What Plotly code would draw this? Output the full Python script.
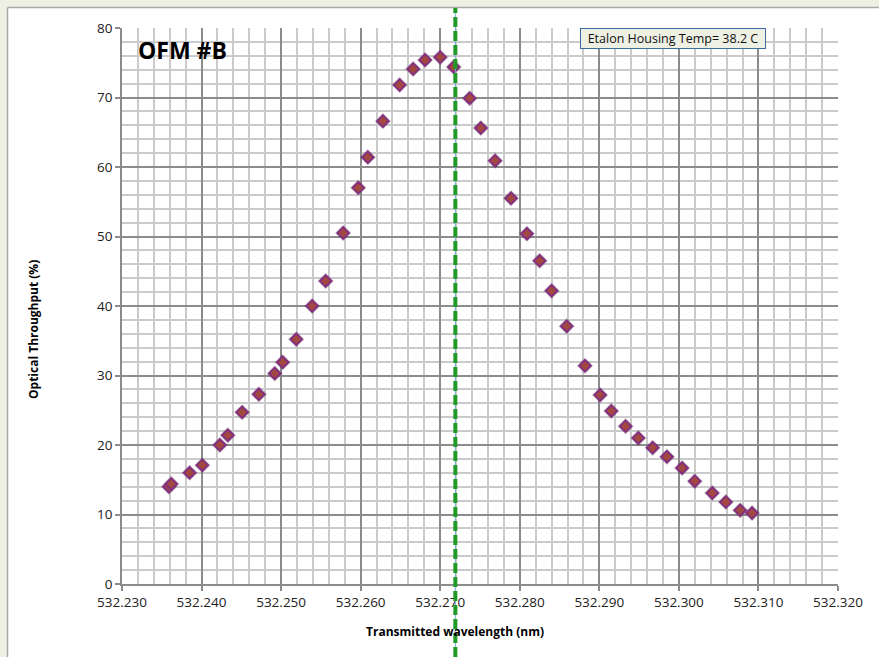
import plotly.graph_objects as go

# Measured etalon transmission scan
wavelength_nm = [
    532.2359, 532.2362, 532.2385, 532.2401, 532.2423, 532.2433, 532.2451,
    532.2472, 532.2492, 532.2502, 532.2519, 532.2539, 532.2556, 532.2578,
    532.2597, 532.2609, 532.2628, 532.2649, 532.2666, 532.2681, 532.2700,
    532.2717, 532.2737, 532.2751, 532.2769, 532.2789, 532.2809, 532.2825,
    532.2840, 532.2859, 532.2882, 532.2901, 532.2915, 532.2933, 532.2949,
    532.2967, 532.2985, 532.3004, 532.3020, 532.3042, 532.3059, 532.3077,
    532.3092,
]
throughput_pct = [
    14.0, 14.4, 16.0, 17.1, 20.0, 21.4, 24.7,
    27.3, 30.3, 31.9, 35.2, 40.0, 43.6, 50.5,
    57.0, 61.4, 66.6, 71.8, 74.1, 75.4, 75.8,
    74.4, 69.9, 65.6, 60.9, 55.5, 50.4, 46.5,
    42.2, 37.1, 31.4, 27.2, 24.9, 22.7, 21.0,
    19.6, 18.3, 16.7, 14.8, 13.1, 11.8, 10.6,
    10.2,
]

# Peak marker wavelength
peak_marker_nm = 532.2719

chart_title = "OFM #B"
temp_label = "Etalon Housing Temp= 38.2 C"
x_title = "Transmitted wavelength (nm)"
y_title = "Optical Throughput (%)"

W, H = 879, 657
ML, MR, MT, MB = 122, 41, 28, 73
PW, PH = W - ML - MR, H - MT - MB


def px_x(p):
    return (p - ML) / PW


def px_y(p):
    return (H - MB - p) / PH


FONT = "Open Sans"

fig = go.Figure()

# soft shadow under the markers
fig.add_trace(go.Scatter(
    x=wavelength_nm, y=throughput_pct, mode="markers",
    marker=dict(symbol="diamond", size=13, color="rgba(40,20,40,0.16)", line=dict(width=0)),
    hoverinfo="skip", showlegend=False,
))
fig.add_trace(go.Scatter(
    x=wavelength_nm, y=throughput_pct, mode="markers",
    marker=dict(symbol="diamond", size=9, color="#a2483f",
                line=dict(width=2, color="#84307f")),
    showlegend=False,
))

shapes = [
    # beige margin strips and frame edge
    dict(type="rect", xref="paper", yref="paper", layer="below",
         x0=px_x(0), x1=px_x(7), y0=px_y(H), y1=px_y(0),
         fillcolor="#eef0e4", line=dict(width=0)),
    dict(type="rect", xref="paper", yref="paper", layer="below",
         x0=px_x(0), x1=px_x(W), y0=px_y(7), y1=px_y(0),
         fillcolor="#eef0e4", line=dict(width=0)),
    dict(type="line", xref="paper", yref="paper", layer="below",
         x0=px_x(7.5), x1=px_x(7.5), y0=px_y(H), y1=px_y(7.5),
         line=dict(color="#a8a8a8", width=1.5)),
    dict(type="line", xref="paper", yref="paper", layer="below",
         x0=px_x(7.5), x1=px_x(W), y0=px_y(7.5), y1=px_y(7.5),
         line=dict(color="#a8a8a8", width=1.5)),
    # vertical peak marker
    dict(type="line", xref="x", yref="paper", layer="above",
         x0=peak_marker_nm, x1=peak_marker_nm, y0=px_y(H), y1=px_y(8),
         line=dict(color="#7aa6e0", width=1)),
    dict(type="line", xref="x", yref="paper", layer="above",
         x0=peak_marker_nm, x1=peak_marker_nm, y0=px_y(H), y1=px_y(8),
         line=dict(color="#1f9a24", width=4, dash="10px,4px")),
]

annotations = [
    dict(text=f"<b>{chart_title}</b>", xref="paper", yref="paper",
         x=px_x(136), y=px_y(50), xanchor="left", yanchor="middle",
         showarrow=False, font=dict(family=FONT, size=23, color="#000000")),
    dict(text=temp_label, xref="paper", yref="paper",
         x=px_x(672.5), y=px_y(39), xanchor="center", yanchor="middle",
         showarrow=False, font=dict(family=FONT, size=12.5, color="#111111"),
         bgcolor="#eef0e4", bordercolor="#3f6c9e", borderwidth=1,
         width=182, height=17, borderpad=1),
    dict(text=f"<b>{x_title}</b>", xref="paper", yref="paper",
         x=px_x(455), y=px_y(631), xanchor="center", yanchor="middle",
         showarrow=False, font=dict(family=FONT, size=12, color="#000000")),
    dict(text=f"<b>{y_title}</b>", xref="paper", yref="paper",
         x=px_x(33), y=px_y(330), xanchor="center", yanchor="middle",
         textangle=-90, showarrow=False,
         font=dict(family=FONT, size=12, color="#000000")),
]

fig.update_layout(
    width=W, height=H,
    margin=dict(l=ML, r=MR, t=MT, b=MB, pad=0),
    paper_bgcolor="#ffffff", plot_bgcolor="#ffffff",
    shapes=shapes, annotations=annotations,
    font=dict(family=FONT, size=13.5, color="#222222"),
)

fig.update_xaxes(
    range=[532.230, 532.320], tick0=532.230, dtick=0.01, tickformat=".3f",
    showgrid=True, gridcolor="#8c8c8c", gridwidth=1.5,
    minor=dict(dtick=0.002, showgrid=True, gridcolor="#cbcbcb", gridwidth=1.5),
    showline=True, linecolor="#8c8c8c", linewidth=1.5,
    ticks="outside", ticklen=5, tickcolor="#8c8c8c", tickwidth=1.5,
    zeroline=False, fixedrange=True,
)
fig.update_yaxes(
    range=[0, 80], tick0=0, dtick=10,
    showgrid=True, gridcolor="#8c8c8c", gridwidth=1.5,
    minor=dict(dtick=2, showgrid=True, gridcolor="#cbcbcb", gridwidth=1.5),
    showline=True, linecolor="#8c8c8c", linewidth=1.5,
    ticks="outside", ticklen=5, tickcolor="#8c8c8c", tickwidth=1.5,
    zeroline=False, fixedrange=True,
)

fig.write_html("out.html")
